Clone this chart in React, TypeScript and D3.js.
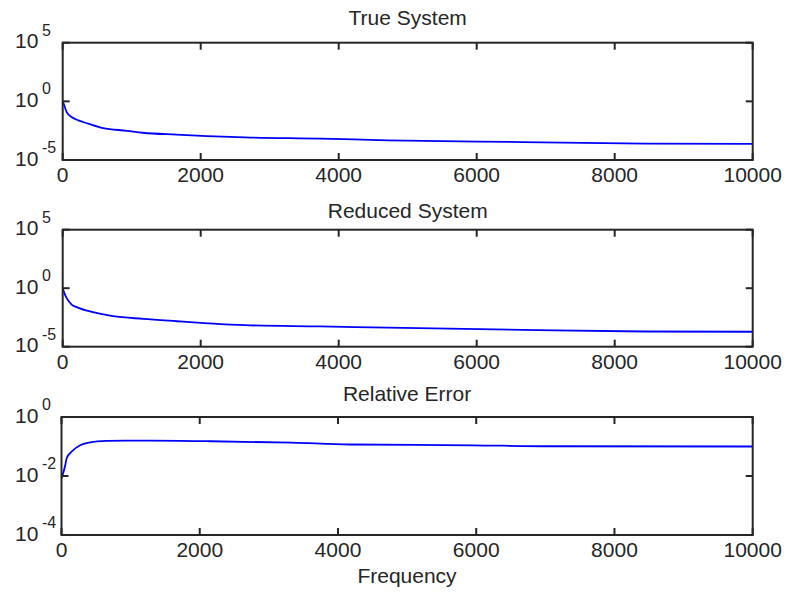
import * as d3 from "d3";

// frequency grid
const freqTrue = [0, 23, 58, 130, 226, 370, 585, 930, 1160, 1650, 2090, 2640, 3730, 4710, 6660, 8440, 10000];
const magTrue = [1, 0.46, 0.12, 0.046, 0.024, 0.0126, 0.0052, 0.0031, 0.0021, 0.00145, 0.0011, 0.00085, 0.00066, 0.00048, 0.00034, 0.00025, 0.00024];

const freqReduced = [0, 23, 58, 130, 203, 440, 730, 1165, 1655, 2105, 2640, 3730, 4710, 6660, 8440, 10000];
const magReduced = [1, 0.4, 0.14, 0.04, 0.024, 0.0089, 0.0041, 0.0024, 0.0015, 0.001, 0.00069, 0.00054, 0.00042, 0.000275, 0.0002, 0.00019];

const freqError = [0, 50, 75, 150, 270, 390, 650, 1280, 2100, 3330, 4170, 5940, 7070, 10000];
const relError = [0.0083, 0.021, 0.04, 0.068, 0.11, 0.135, 0.155, 0.158, 0.151, 0.135, 0.117, 0.11, 0.102, 0.1];

const xTicks = [0, 2000, 4000, 6000, 8000, 10000];
const magTicks = [-5, 0, 5];
const errTicks = [-4, -2, 0];

const titles = ["True System", "Reduced System", "Relative Error"];
const xLabel = "Frequency";

const W = 786, H = 594;
const FONT = "'Liberation Sans', Arial, sans-serif";
const INK = "#262626";

type PanelProps = {
  freq: number[];
  vals: number[];
  expTicks: number[];
  title: string;
  left: number;
  right: number;
  top: number;
  bottom: number;
  titleY: number;
};

function Panel({ freq, vals, expTicks, title, left, right, top, bottom, titleY }: PanelProps) {
  const x = d3.scaleLinear().domain([0, 10000]).range([left, right]);
  const y = d3.scaleLog()
    .domain([Math.pow(10, expTicks[0]), Math.pow(10, expTicks[expTicks.length - 1])])
    .range([bottom, top]);

  const line = d3.line<number>()
    .x((_, i) => x(freq[i]))
    .y(d => y(d))
    .curve(d3.curveMonotoneX);

  const tl = 7;
  const cx = (left + right) / 2;

  return (
    <g>
      <text x={cx} y={titleY} textAnchor="middle" fontSize={21} fontFamily={FONT} fill={INK}>{title}</text>
      <path d={line(vals) || ""} fill="none" stroke="#0000ff" strokeWidth={1.8} />
      <rect x={left} y={top} width={right - left} height={bottom - top} fill="none" stroke={INK} strokeWidth={2} />
      {xTicks.map(t => (
        <g key={"x" + t}>
          <line x1={x(t)} x2={x(t)} y1={top} y2={top + tl} stroke={INK} strokeWidth={2} />
          <line x1={x(t)} x2={x(t)} y1={bottom} y2={bottom - tl} stroke={INK} strokeWidth={2} />
          <text x={x(t)} y={bottom + 22} textAnchor="middle" fontSize={21} fontFamily={FONT} fill={INK}>{t}</text>
        </g>
      ))}
      {expTicks.map(e => {
        const yy = y(Math.pow(10, e));
        return (
          <g key={"y" + e}>
            <line x1={left} x2={left + tl} y1={yy} y2={yy} stroke={INK} strokeWidth={2} />
            <line x1={right} x2={right - tl} y1={yy} y2={yy} stroke={INK} strokeWidth={2} />
            <text x={15} y={yy + 5.5} fontSize={21} fontFamily={FONT} fill={INK}>10</text>
            <text x={42} y={yy - 7} fontSize={16} fontFamily={FONT} fill={INK}>{String(e)}</text>
          </g>
        );
      })}
    </g>
  );
}

export default function App() {
  return (
    <svg width={W} height={H} style={{ position: "absolute", left: 0, top: 0, background: "#fff" }}>
      <rect width={W} height={H} fill="#fff" />
      <Panel freq={freqTrue} vals={magTrue} expTicks={magTicks} title={titles[0]}
        left={62.7} right={752.7} top={42.7} bottom={160} titleY={25} />
      <Panel freq={freqReduced} vals={magReduced} expTicks={magTicks} title={titles[1]}
        left={62.7} right={752.7} top={229.7} bottom={346.7} titleY={218} />
      <Panel freq={freqError} vals={relError} expTicks={errTicks} title={titles[2]}
        left={61.5} right={752.7} top={417} bottom={535} titleY={401} />
      <text x={407} y={583} textAnchor="middle" fontSize={21} fontFamily={FONT} fill={INK}>{xLabel}</text>
    </svg>
  );
}
